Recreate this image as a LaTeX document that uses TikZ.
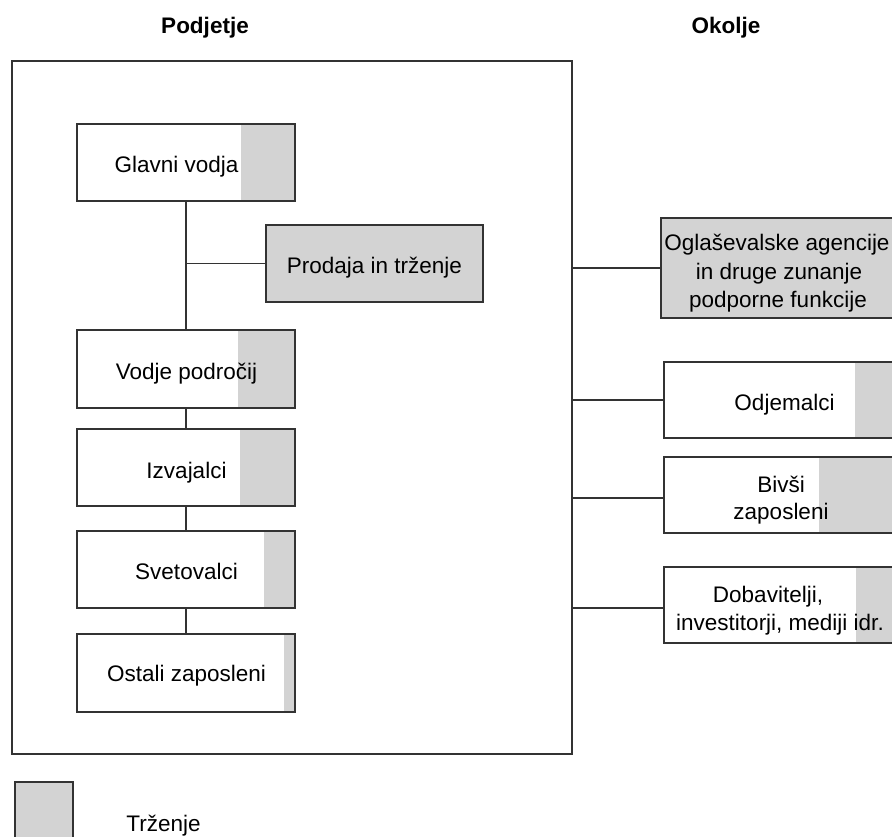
\documentclass[tikz,border=0pt]{standalone}
\usepackage{fontspec}
\setmainfont{Liberation Sans}
\definecolor{edge}{HTML}{333333}
\definecolor{trz}{HTML}{D3D3D3}
\begin{document}
\begin{tikzpicture}[x=1pt,y=-1pt,
  every node/.style={font=\fontsize{22.5}{28}\selectfont},
  box/.style={draw=edge, line width=1.3pt, rectangle, inner sep=0pt},
  marked/.style={path picture={\fill[trz]
      ([xshift=-#1]path picture bounding box.north east) rectangle
      (path picture bounding box.south east);}},
  lbl/.style={anchor=base, inner sep=0pt, text=black},
  head/.style={anchor=base, inner sep=0pt, font=\fontsize{22.5}{28}\selectfont\bfseries},
  link/.style={draw=edge, line width=1.3pt}]
\useasboundingbox (0,0) rectangle (892,836);
\clip (0,0) rectangle (892,836);

% headings
\node[head] (hpod) at (205,33) {Podjetje};
\node[head] (hoko) at (726,33) {Okolje};

% company frame
\node[box, minimum width=560pt, minimum height=693pt] (firm) at (292,407.5) {};

% internal hierarchy
\node[box, marked=54pt, minimum width=218pt, minimum height=77pt] (gv) at (186,162.5) {};
\node[box, fill=trz, minimum width=217pt, minimum height=77pt] (pit) at (374.5,263.5) {};
\node[box, marked=57pt, minimum width=218pt, minimum height=78pt] (vp) at (186,369) {};
\node[box, marked=55pt, minimum width=218pt, minimum height=77pt] (iz) at (186,467.5) {};
\node[box, marked=31pt, minimum width=218pt, minimum height=77pt] (sv) at (186,569.5) {};
\node[box, marked=11pt, minimum width=218pt, minimum height=78pt] (os) at (186,673) {};

\node[lbl] (tgv) at (176.5,172) {Glavni vodja};
\node[lbl] (tpit) at (374.5,273) {Prodaja in trženje};
\node[lbl] (tvp) at (186.5,379) {Vodje področij};
\node[lbl] (tiz) at (186.5,478) {Izvajalci};
\node[lbl] (tsv) at (186.5,579) {Svetovalci};
\node[lbl] (tos) at (186.5,681) {Ostali zaposleni};

\draw[link] (gv.south) -- (vp.north);
\draw[link] (pit.west -| gv.south) -- (pit.west);
\draw[link] (vp.south) -- (iz.north);
\draw[link] (iz.south) -- (sv.north);
\draw[link] (sv.south) -- (os.north);

% environment
\node[box, fill=trz, minimum width=234pt, minimum height=100pt] (oa) at (778,268) {};
\node[box, marked=40pt, minimum width=231pt, minimum height=76pt] (odj) at (779.5,400) {};
\node[box, marked=76pt, minimum width=231pt, minimum height=76pt] (biv) at (779.5,495) {};
\node[box, marked=39pt, minimum width=231pt, minimum height=76pt] (dob) at (779.5,605) {};

\node[lbl] (toa1) at (777,250) {Oglaševalske agencije};
\node[lbl] (toa2) at (779,279) {in druge zunanje};
\node[lbl] (toa3) at (778,307) {podporne funkcije};
\node[lbl] (todj) at (784.5,410.5) {Odjemalci};
\node[lbl] (tbiv1) at (781,492.5) {Bivši};
\node[lbl] (tbiv2) at (781,519.5) {zaposleni};
\node[lbl] (tdob1) at (768,602) {Dobavitelji,};
\node[lbl] (tdob2) at (780,630) {investitorji, mediji idr.};

\draw[link] (oa.west -| firm.east) -- (oa.west);
\draw[link] (odj.west -| firm.east) -- (odj.west);
\draw[link] ([yshift=-3pt]biv.west -| firm.east) -- ([yshift=-3pt]biv.west);
\draw[link] ([yshift=-3pt]dob.west -| firm.east) -- ([yshift=-3pt]dob.west);

% legend
\node[box, fill=trz, minimum width=58pt, minimum height=64pt] (leg) at (44,814) {};
\node[lbl] (tleg) at (163.5,831) {Trženje};
\end{tikzpicture}
\end{document}
